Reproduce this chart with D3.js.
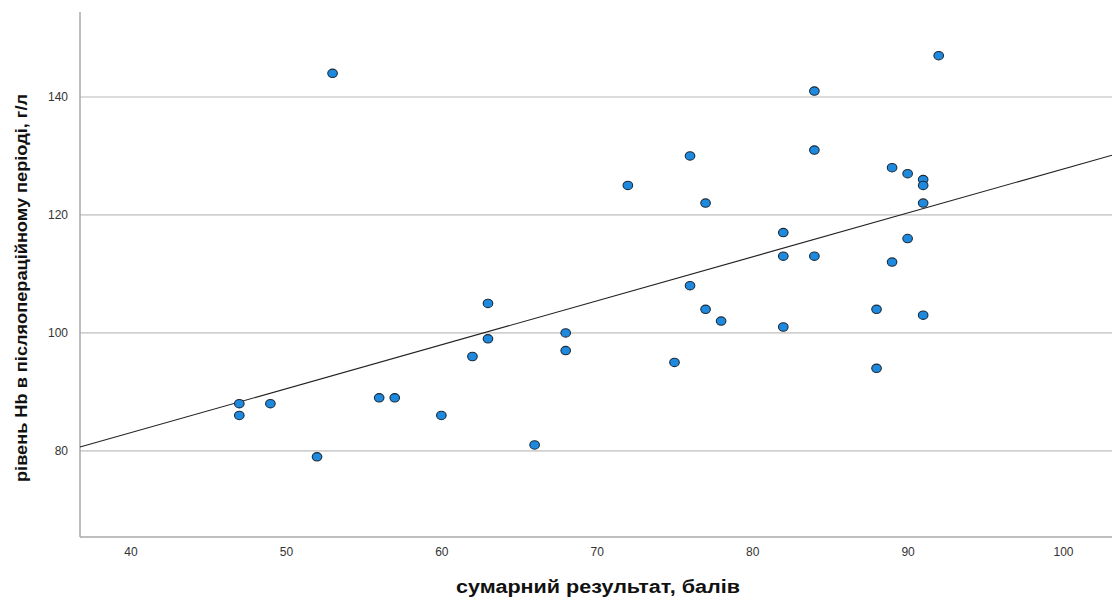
<!DOCTYPE html>
<html>
<head>
<meta charset="utf-8">
<script src="https://cdn.jsdelivr.net/npm/d3@7"></script>
<style>
  html, body { margin: 0; padding: 0; background: #fff; }
  svg { display: block; font-family: "Liberation Sans", Arial, sans-serif; }
</style>
</head>
<body>
<svg id="chart" width="1112" height="599"></svg>
<script>
// Сумарний результат (бали) і рівень Hb (г/л) для кожного пацієнта
const scoreValues = [47, 47, 49, 52, 53, 56, 57, 60, 62, 63, 63, 66, 68, 68, 72, 75, 76, 76, 77, 77,
  78, 82, 82, 82, 84, 84, 84, 88, 88, 89, 89, 90, 90, 91, 91, 91, 91, 92];
const hbValues = [88, 86, 88, 79, 144, 89, 89, 86, 96, 105, 99, 81, 100, 97, 125, 95, 130, 108, 122, 104,
  102, 117, 113, 101, 141, 131, 113, 104, 94, 128, 112, 127, 116, 126, 125, 122, 103, 147];

const xTicks = [40, 50, 60, 70, 80, 90, 100];
const yTicks = [80, 100, 120, 140];
const xTitle = "сумарний результат, балів";
const yTitle = "рівень Hb в післяопераційному періоді, г/л";

(function draw() {
  const svg = d3.select("#chart");
  const plotLeft = 80, plotRight = 1112, plotTop = 12, plotBottom = 537;

  const x = d3.scaleLinear().domain([36.75, 103.15]).range([plotLeft, plotRight]);
  const y = d3.scaleLinear().domain([65.4, 154.4]).range([plotBottom, plotTop]);

  // horizontal grid lines
  svg.append("g").selectAll("line").data(yTicks).join("line")
    .attr("x1", plotLeft).attr("x2", plotRight)
    .attr("y1", d => y(d)).attr("y2", d => y(d))
    .attr("stroke", "#d0d0d0").attr("stroke-width", 1.6);

  // axes frame
  svg.append("line").attr("x1", plotLeft).attr("x2", plotLeft).attr("y1", plotTop).attr("y2", plotBottom)
    .attr("stroke", "#a8a8a8").attr("stroke-width", 1.5);
  svg.append("line").attr("x1", plotLeft).attr("x2", plotRight).attr("y1", plotBottom).attr("y2", plotBottom)
    .attr("stroke", "#a8a8a8").attr("stroke-width", 1.5);

  // tick labels
  const xAxis = d3.axisBottom(x).tickValues(xTicks).tickSize(0).tickPadding(10);
  svg.append("g").attr("transform", `translate(0,${plotBottom})`).call(xAxis)
    .call(g => g.select(".domain").remove())
    .selectAll("text").attr("font-size", 12).attr("fill", "#333")
    .attr("font-family", "Liberation Sans, Arial, sans-serif");

  const yAxis = d3.axisLeft(y).tickValues(yTicks).tickSize(0).tickPadding(12);
  svg.append("g").attr("transform", `translate(${plotLeft},0)`).call(yAxis)
    .call(g => g.select(".domain").remove())
    .selectAll("text").attr("font-size", 12).attr("fill", "#333")
    .attr("font-family", "Liberation Sans, Arial, sans-serif");

  // least-squares fit line
  const n = scoreValues.length;
  const mx = d3.mean(scoreValues), my = d3.mean(hbValues);
  let sxy = 0, sxx = 0;
  for (let i = 0; i < n; i++) {
    sxy += (scoreValues[i] - mx) * (hbValues[i] - my);
    sxx += (scoreValues[i] - mx) ** 2;
  }
  const slope = sxy / sxx, intercept = my - slope * mx;
  const [x0, x1] = x.domain();
  svg.append("line")
    .attr("x1", x(x0)).attr("y1", y(intercept + slope * x0))
    .attr("x2", x(x1)).attr("y2", y(intercept + slope * x1))
    .attr("stroke", "#222").attr("stroke-width", 1.1);

  // points
  const points = scoreValues.map((s, i) => ({ s, h: hbValues[i] }));
  svg.append("g").selectAll("ellipse").data(points).join("ellipse")
    .attr("cx", d => x(d.s)).attr("cy", d => y(d.h))
    .attr("rx", 4.8).attr("ry", 4.2)
    .attr("fill", "#1d8ae0").attr("stroke", "#1b2a38").attr("stroke-width", 1.1);

  // axis titles
  svg.append("text").attr("x", 598).attr("y", 593)
    .attr("text-anchor", "middle").attr("font-size", 18).attr("font-weight", "bold")
    .attr("textLength", 284).attr("lengthAdjust", "spacingAndGlyphs")
    .attr("fill", "#111").text(xTitle);

  svg.append("text").attr("transform", "translate(27,288) rotate(-90)")
    .attr("text-anchor", "middle").attr("font-size", 16).attr("font-weight", "bold")
    .attr("textLength", 388).attr("lengthAdjust", "spacingAndGlyphs")
    .attr("fill", "#111").text(yTitle);
})();
</script>
</body>
</html>
